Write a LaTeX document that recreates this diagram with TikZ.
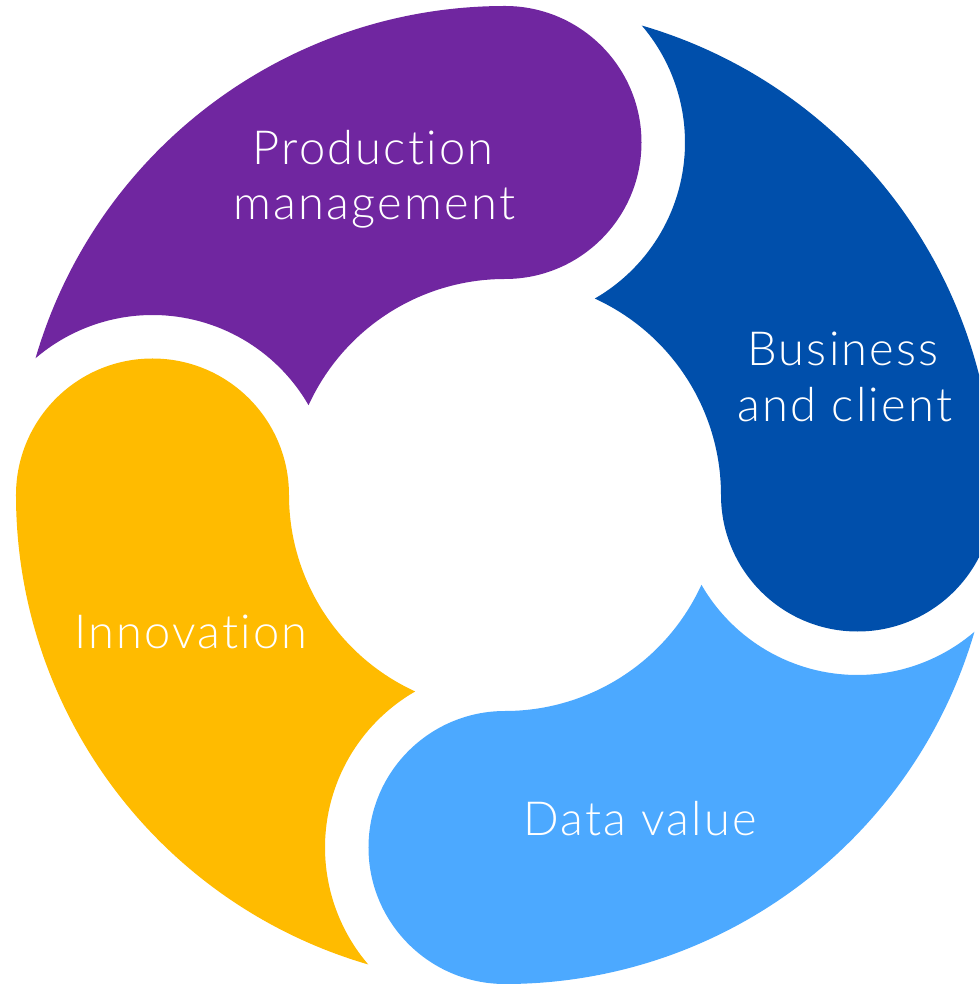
\documentclass[tikz,border=0pt]{standalone}
\usepackage{fontspec}
\newfontfamily\lblfont{Lato Light}[Ligatures=NoCommon,LetterSpace=4.7]
\definecolor{segpurple}{RGB}{112,38,160}
\definecolor{segblue}{RGB}{0,79,171}
\definecolor{seglight}{RGB}{76,169,255}
\definecolor{segyellow}{RGB}{255,187,0}
\newcommand\ringseg[2]{%
  \pgfmathsetmacro\rsOut{#1-16.23}%
  \pgfmathsetmacro\rsHead{#1-90}%
  \pgfmathsetmacro\rsHeadEnd{#1-270}%
  \pgfmathsetmacro\rsIn{#1-24.56}%
  \pgfmathsetmacro\rsNa{#1-150.08}%
  \pgfmathsetmacro\rsNb{#1-49.45}%
  \fill[#2] (\rsOut:489) arc[start angle=\rsOut, end angle=\rsHead, radius=489]
    arc[start angle=\rsHead, end angle=\rsHeadEnd, radius=136.5]
    arc[start angle=\rsHead, end angle=\rsIn, radius=216]
    arc[start angle=\rsNa, end angle=\rsNb, radius=180] -- cycle;}
\begin{document}
\begin{tikzpicture}[x=1pt,y=1pt,
  lbl/.style={text=white,font=\lblfont\fontsize{47}{56}\selectfont,inner sep=0pt,anchor=base}]
\useasboundingbox (-505,-489) rectangle (474,495);
\clip (-505,-489) rectangle (474,495);
\ringseg{180}{segpurple}
\ringseg{90}{segblue}
\ringseg{0}{seglight}
\ringseg{-90}{segyellow}
\node[lbl] (prod1) at (-132,330) {Production};
\node[lbl] (prod2) at (-130.5,275) {management};
\node[lbl] (bus1) at (338,129) {Business};
\node[lbl] (bus2) at (340,73) {and client};
\node[lbl] (inno) at (-314,-153) {Innovation};
\node[lbl] (data) at (135,-340) {Data value};
\end{tikzpicture}
\end{document}
